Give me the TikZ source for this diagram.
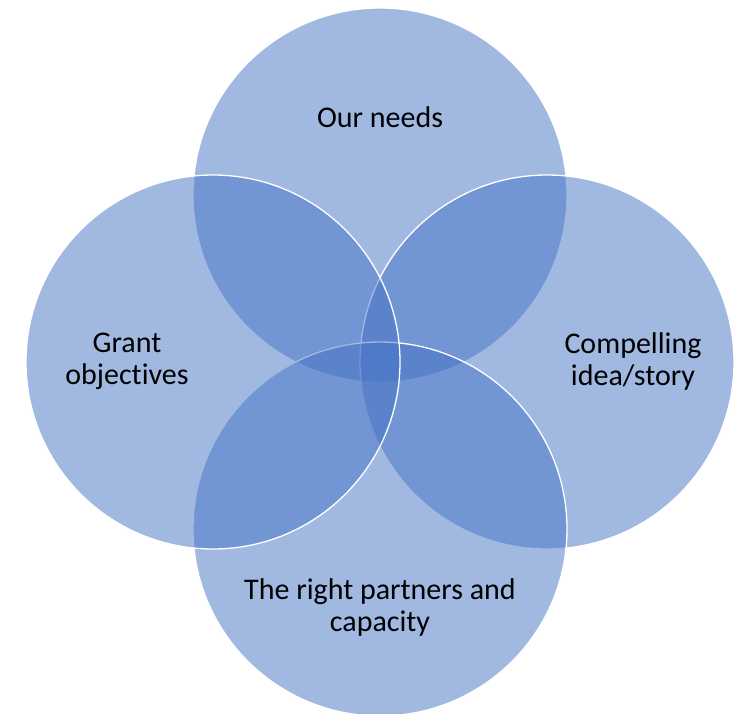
\documentclass[tikz,border=0pt]{standalone}
\usepackage{fontspec}
\setmainfont{Carlito}[Ligatures=NoCommon]
\definecolor{vennblue}{HTML}{4472C4}
\tikzset{
  venn/.style={circle, minimum size=374pt, inner sep=0pt, fill=vennblue, fill opacity=0.5, draw=white, line width=1.3pt},
  venntext/.style={align=center, inner sep=0pt, font=\fontsize{30}{32}\selectfont}
}
\begin{document}
\begin{tikzpicture}[x=1pt,y=-1pt]
\useasboundingbox (0,0) rectangle (744,713);
\node (needs) [venn] at (380,195) {};
\node (story) [venn] at (547,362) {};
\node (partners) [venn] at (380,529) {};
\node (grant) [venn] at (213,362) {};
\node (needslabel) [venntext] at (380,117) {Our needs};
\node (grantlabel) [venntext] at (127,361) {Grant\\objectives};
\node (storylabel) [venntext] at (633,361) {Compelling\\idea/story};
\node (partnerslabel) [venntext] at (380,607) {The right partners and\\capacity};
\end{tikzpicture}
\end{document}
